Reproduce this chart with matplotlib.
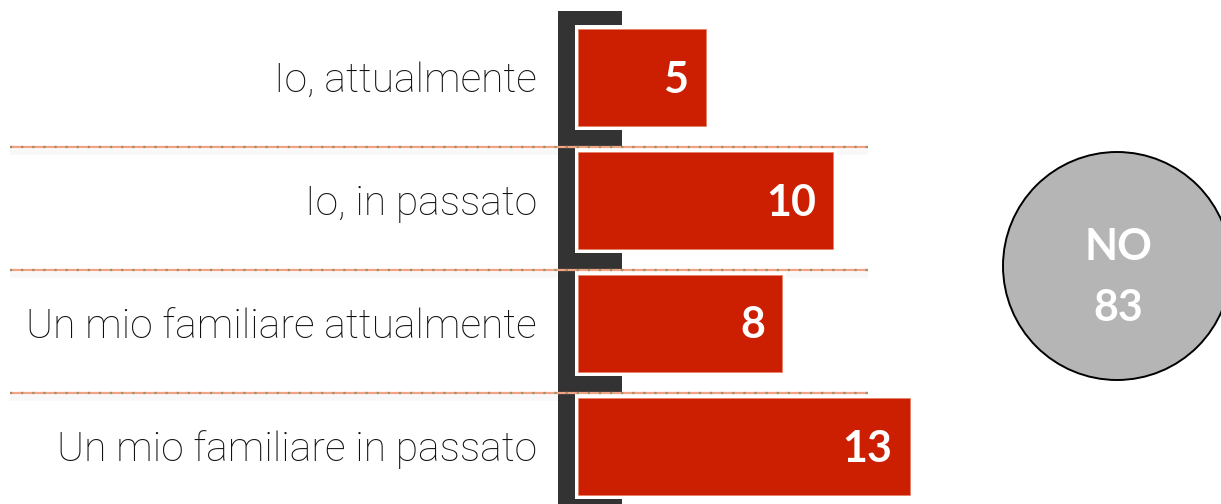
import matplotlib
matplotlib.use('Agg')
import matplotlib.pyplot as plt
from matplotlib.patches import Rectangle, Ellipse

categories = ['Io, attualmente', 'Io, in passato', 'Un mio familiare attualmente', 'Un mio familiare in passato']
values = [5, 10, 8, 13]
no_label = 'NO'
no_value = 83

W, H, DPI = 1221, 504, 100
PX_X = 25.5   # pixels per value unit
PX_Y = 123.0  # pixels per category step
X0 = 578      # pixel of value 0
Y0 = 77.5     # pixel of first category center

fig = plt.figure(figsize=(W / DPI, H / DPI), dpi=DPI)
ax = fig.add_axes([0, 0, 1, 1])
ax.set_xlim(-X0 / PX_X, (W - X0) / PX_X)
ax.set_ylim((H - Y0) / PX_Y, -Y0 / PX_Y)
ax.axis('off')

def px(n):
    return n / PX_X

def py(n):
    return n / PX_Y

dark = '#333333'
red = '#CC1E00'
bar_h = py(97)
n = len(categories)

# dark bracket behind the bars
for i in range(n):
    top = i - py(66.5)
    bottom = i + py(70)
    ax.add_patch(Rectangle((px(-20), top), px(64), bottom - top, color=dark, lw=0, zorder=1))

# white pad then red bar
for i, v in enumerate(values):
    ax.add_patch(Rectangle((px(-3), i - bar_h / 2 - py(4)), v + px(7), bar_h + py(8),
                           color='white', lw=0, zorder=2))
bars = ax.barh(range(n), values, height=bar_h, color=red, edgecolor='#E8806A', linewidth=0.6, zorder=3)

for i, (cat, v) in enumerate(zip(categories, values)):
    ax.text(px(-41), i + py(3), cat, ha='right', va='center', fontsize=29.3,
            family='Roboto', fontweight='light', color='#111111', zorder=4)
    ax.text(v - px(17), i + py(2), str(v), ha='right', va='center', fontsize=31,
            family='Lato', fontweight='bold', color='white', zorder=4)

# separators
for i in range(n - 1):
    y = i + py(69.5)
    ax.plot([px(10 - X0), px(868 - X0)], [y + py(5), y + py(5)], color='#f8f8f8', lw=4, zorder=0.5,
            solid_capstyle='butt')
    ax.plot([px(10 - X0), px(868 - X0)], [y, y], color='#F2A383', lw=1.6, zorder=5,
            solid_capstyle='butt')
    ax.plot([px(10 - X0), px(868 - X0)], [y, y], color='#9C8F6A', lw=1.6, zorder=6,
            linestyle=(0, (1, 4)), solid_capstyle='butt')

# NO circle
cx, cy, r = 1117, 266, 114
ax.add_patch(Ellipse((px(cx - X0), py(cy - Y0)), 2 * px(r), 2 * py(r),
                     facecolor='#B5B5B5', edgecolor='black', lw=1.4, zorder=2))
ax.text(px(cx + 1 - X0), py(247 - Y0), no_label, ha='center', va='center', fontsize=31,
        family='Lato', fontweight='bold', color='white', zorder=4)
ax.text(px(cx + 1 - X0), py(308 - Y0), str(no_value), ha='center', va='center', fontsize=31,
        family='Lato', fontweight='bold', color='white', zorder=4)

fig.savefig('out.png', dpi=DPI, facecolor='white')
